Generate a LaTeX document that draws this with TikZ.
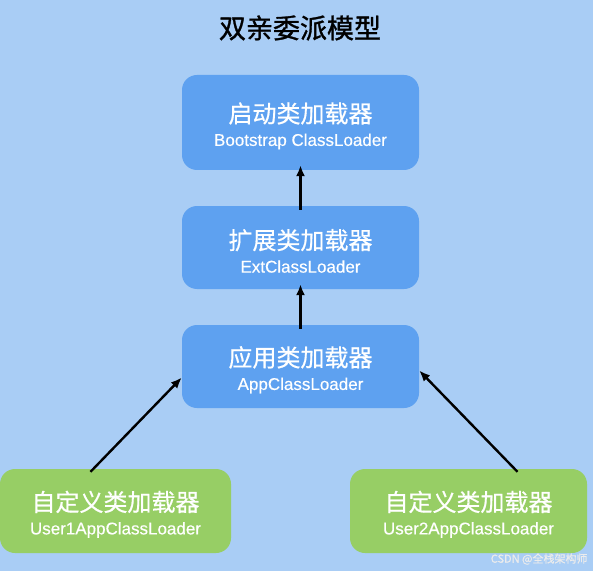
\documentclass[tikz,border=0pt]{standalone}
\usepackage{fontspec}
\usepackage{xcolor}
\usepackage{tikz}
\usetikzlibrary{arrows.meta}
\newfontfamily\zh[FakeBold=0.6]{Noto Sans CJK SC}
\newfontfamily\zhtitle[FakeBold=1.2]{Noto Sans CJK SC}
\newfontfamily\en[FakeBold=0.4]{Liberation Sans}
\definecolor{bgblue}{RGB}{169,205,245}
\definecolor{boxblue}{RGB}{94,161,240}
\definecolor{boxgreen}{RGB}{151,206,101}
\newcommand{\loadertext}[2]{{\zh\fontsize{24}{26}\selectfont\rule{0pt}{27pt}#1}\\[8pt]{\en\fontsize{17}{18}\selectfont #2}}

\begin{document}
\begin{tikzpicture}[x=1pt, y=1pt,
  loader/.style={rounded corners=15pt, text=white, align=center, inner sep=0pt,
                 minimum width=237pt, minimum height=83pt},
  arr/.style={-{Latex[length=11pt,width=9pt]}, line width=2.4pt, black}]
  \fill[bgblue] (0,0) rectangle (593,571);
  \useasboundingbox (0,0) rectangle (593,571);

  \node (title) at (300,543) {\zhtitle\fontsize{27}{28}\selectfont 双亲委派模型};

  \node[loader, fill=boxblue, minimum height=95pt] (boot) at (300.5,448.5)
        {\loadertext{启动类加载器}{Bootstrap ClassLoader}};
  \node[loader, fill=boxblue] (ext) at (300.5,323.5)
        {\loadertext{扩展类加载器}{ExtClassLoader}};
  \node[loader, fill=boxblue] (app) at (300.5,204.5)
        {\loadertext{应用类加载器}{AppClassLoader}};

  \node[loader, fill=boxgreen, minimum width=231pt, minimum height=84pt] (user1) at (115.5,60)
        {\loadertext{自定义类加载器}{User1AppClassLoader}};
  \node[loader, fill=boxgreen, minimum height=84pt] (user2) at (468.5,60)
        {\loadertext{自定义类加载器}{User2AppClassLoader}};

  \draw[arr] ([yshift=-4pt]ext.north) -- ([yshift=5pt]boot.south);
  \draw[arr] ([yshift=-4pt]app.north) -- ([yshift=5pt]ext.south);
  \draw[arr] ([xshift=-25pt,yshift=-3pt]user1.north) -- ([yshift=-11pt]app.west);
  \draw[arr] ([xshift=49pt,yshift=-3pt]user2.north) -- ([yshift=-4pt]app.east);

  % watermark
  \node[anchor=east, text=white!85!gray] (mark) at (591,12)
        {\zh\fontsize{11}{12}\selectfont CSDN @全栈架构师};
\end{tikzpicture}
\end{document}
